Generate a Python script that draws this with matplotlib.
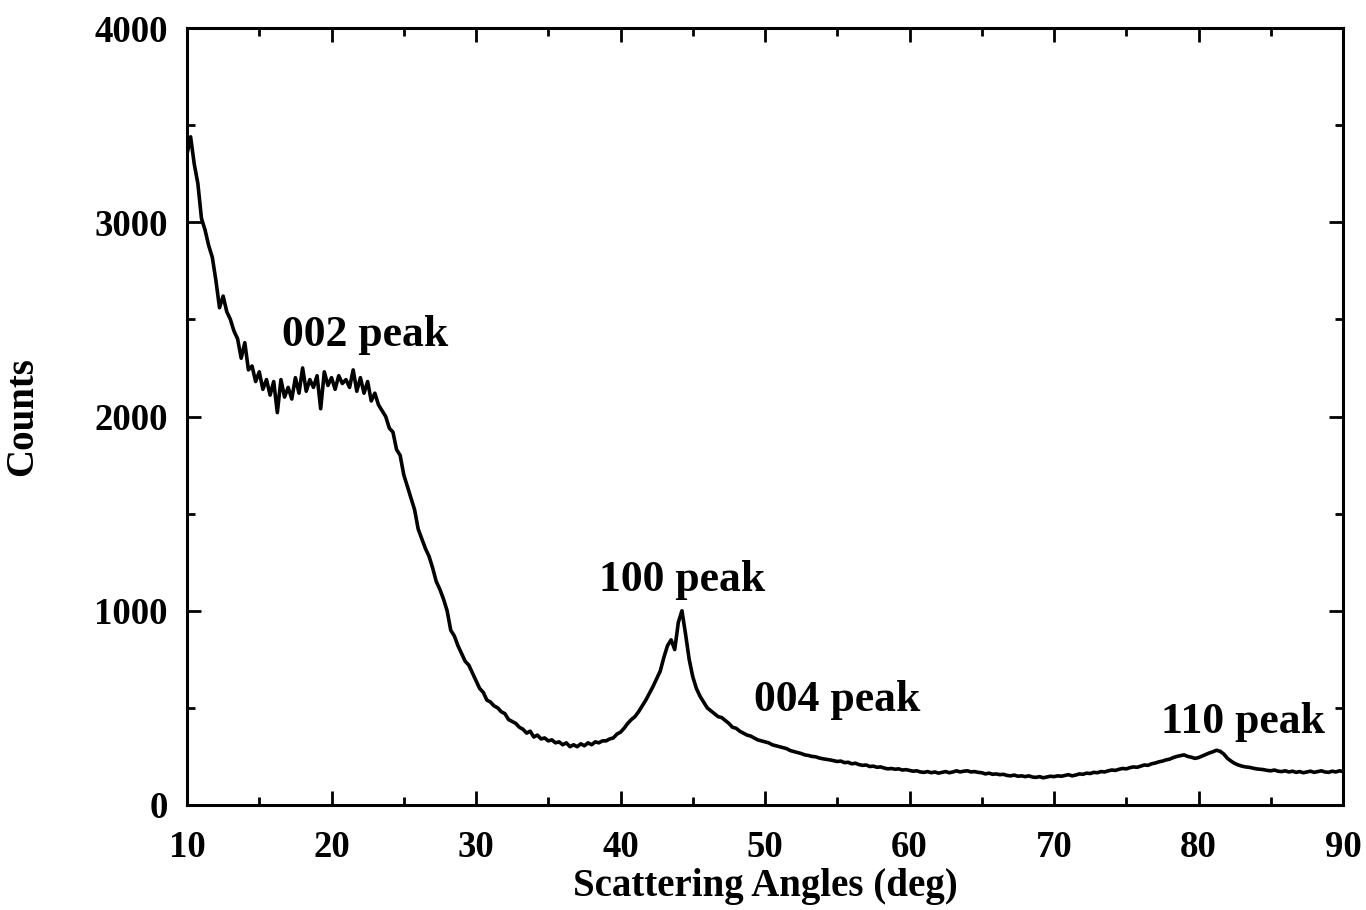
import matplotlib
matplotlib.use("Agg")
import matplotlib.pyplot as plt
import numpy as np
from matplotlib.ticker import MultipleLocator

# Scattering angle grid (deg) and counts
angle_start, angle_stop, angle_step = 10.0, 90.0, 0.25

counts = [
    # 10.00 - 14.75
    3350, 3440, 3300, 3200, 3020, 2960, 2880, 2820, 2700, 2560, 2620, 2540,
    2500, 2440, 2400, 2300, 2380, 2240, 2260, 2180,
    # 15.00 - 19.75
    2230, 2140, 2190, 2110, 2180, 2020, 2190, 2100, 2150, 2090, 2200, 2120,
    2250, 2130, 2190, 2150, 2210, 2040, 2230, 2160,
    # 20.00 - 24.75
    2200, 2140, 2210, 2170, 2190, 2150, 2240, 2130, 2200, 2120, 2180, 2080,
    2120, 2060, 2030, 2000, 1940, 1920, 1830, 1800,
    # 25.00 - 29.75
    1700, 1640, 1580, 1520, 1420, 1370, 1320, 1280, 1220, 1150, 1110, 1060,
    1000, 900, 870, 820, 780, 740, 720, 680,
    # 30.00 - 34.75
    640, 600, 580, 540, 530, 510, 500, 480, 470, 440, 430, 420,
    400, 390, 370, 380, 350, 360, 340, 345,
    # 35.00 - 39.75
    330, 335, 320, 325, 310, 320, 300, 310, 300, 315, 305, 320,
    310, 325, 320, 330, 330, 340, 345, 365,
    # 40.00 - 44.75
    375, 395, 420, 440, 455, 480, 510, 540, 575, 610, 650, 690,
    760, 820, 850, 800, 940, 1000, 880, 750,
    # 45.00 - 49.75
    660, 600, 560, 530, 500, 485, 470, 455, 450, 435, 420, 400,
    395, 380, 370, 360, 355, 345, 335, 330,
    # 50.00 - 54.75
    325, 320, 310, 305, 300, 295, 290, 280, 275, 270, 265, 258,
    255, 250, 248, 242, 238, 235, 232, 228,
    # 55.00 - 59.75
    224, 226, 218, 220, 212, 215, 208, 204, 206, 198, 200, 194,
    196, 190, 186, 188, 184, 186, 180, 182,
    # 60.00 - 64.75
    178, 174, 176, 170, 168, 172, 166, 170, 164, 168, 172, 166,
    170, 176, 170, 174, 176, 170, 172, 168,
    # 65.00 - 69.75
    166, 160, 164, 158, 160, 156, 158, 152, 150, 154, 148, 150,
    146, 150, 144, 142, 146, 140, 144, 148,
    # 70.00 - 74.75
    146, 150, 148, 152, 156, 150, 154, 160, 158, 164, 162, 168,
    166, 172, 170, 176, 180, 178, 184, 188,
    # 75.00 - 79.75
    186, 192, 196, 194, 200, 206, 204, 212, 216, 222, 226, 232,
    236, 244, 250, 254, 258, 250, 246, 240,
    # 80.00 - 84.75
    244, 252, 260, 268, 274, 282, 276, 262, 240, 226, 214, 206,
    200, 196, 194, 190, 186, 184, 182, 178,
    # 85.00 - 89.75
    176, 180, 174, 172, 176, 170, 174, 168, 172, 166, 170, 174,
    168, 172, 176, 170, 168, 174, 170, 176,
    # 90.00
    172,
]

x_ticks = [10, 20, 30, 40, 50, 60, 70, 80, 90]
y_ticks = [0, 1000, 2000, 3000, 4000]

labels = ["002 peak", "100 peak", "004 peak", "110 peak"]
label_x = [22.3, 44.25, 55.0, 83.1]
label_y = [2420, 1158, 540, 427]

angles = np.arange(angle_start, angle_stop + angle_step / 2, angle_step)[:len(counts)]

plt.rcParams['font.family'] = ['Liberation Serif', 'DejaVu Serif']
plt.rcParams['font.weight'] = 'bold'

fig = plt.figure(figsize=(13.66, 9.10), dpi=100)
ax = fig.add_axes([0.1369, 0.1154, 0.9832 - 0.1369, 0.9692 - 0.1154])

ax.plot(angles, counts, color='black', lw=2.6)

ax.set_xlim(10, 90)
ax.set_ylim(0, 4000)
ax.set_xticks(x_ticks)
ax.set_yticks(y_ticks)
ax.xaxis.set_minor_locator(MultipleLocator(5))
ax.yaxis.set_minor_locator(MultipleLocator(500))

ax.tick_params(which='both', direction='in', top=True, right=True, width=2)
ax.tick_params(which='major', length=10)
ax.tick_params(which='minor', length=6)
ax.tick_params(axis='x', which='major', pad=18, labelsize=26.5)
ax.tick_params(axis='y', which='major', pad=14, labelsize=26.5)
for lab in ax.get_xticklabels() + ax.get_yticklabels():
    lab.set_fontweight('bold')

for s in ax.spines.values():
    s.set_linewidth(2.2)

ax.set_xlabel("Scattering Angles (deg)", fontsize=28, fontweight='bold', labelpad=2)
ax.set_ylabel("Counts", fontsize=28, fontweight='bold', labelpad=38)

for t, xx, yy in zip(labels, label_x, label_y):
    ax.text(xx, yy, t, fontsize=31.5, fontweight='bold', ha='center', va='center')

fig.savefig("out.png", dpi=100)
